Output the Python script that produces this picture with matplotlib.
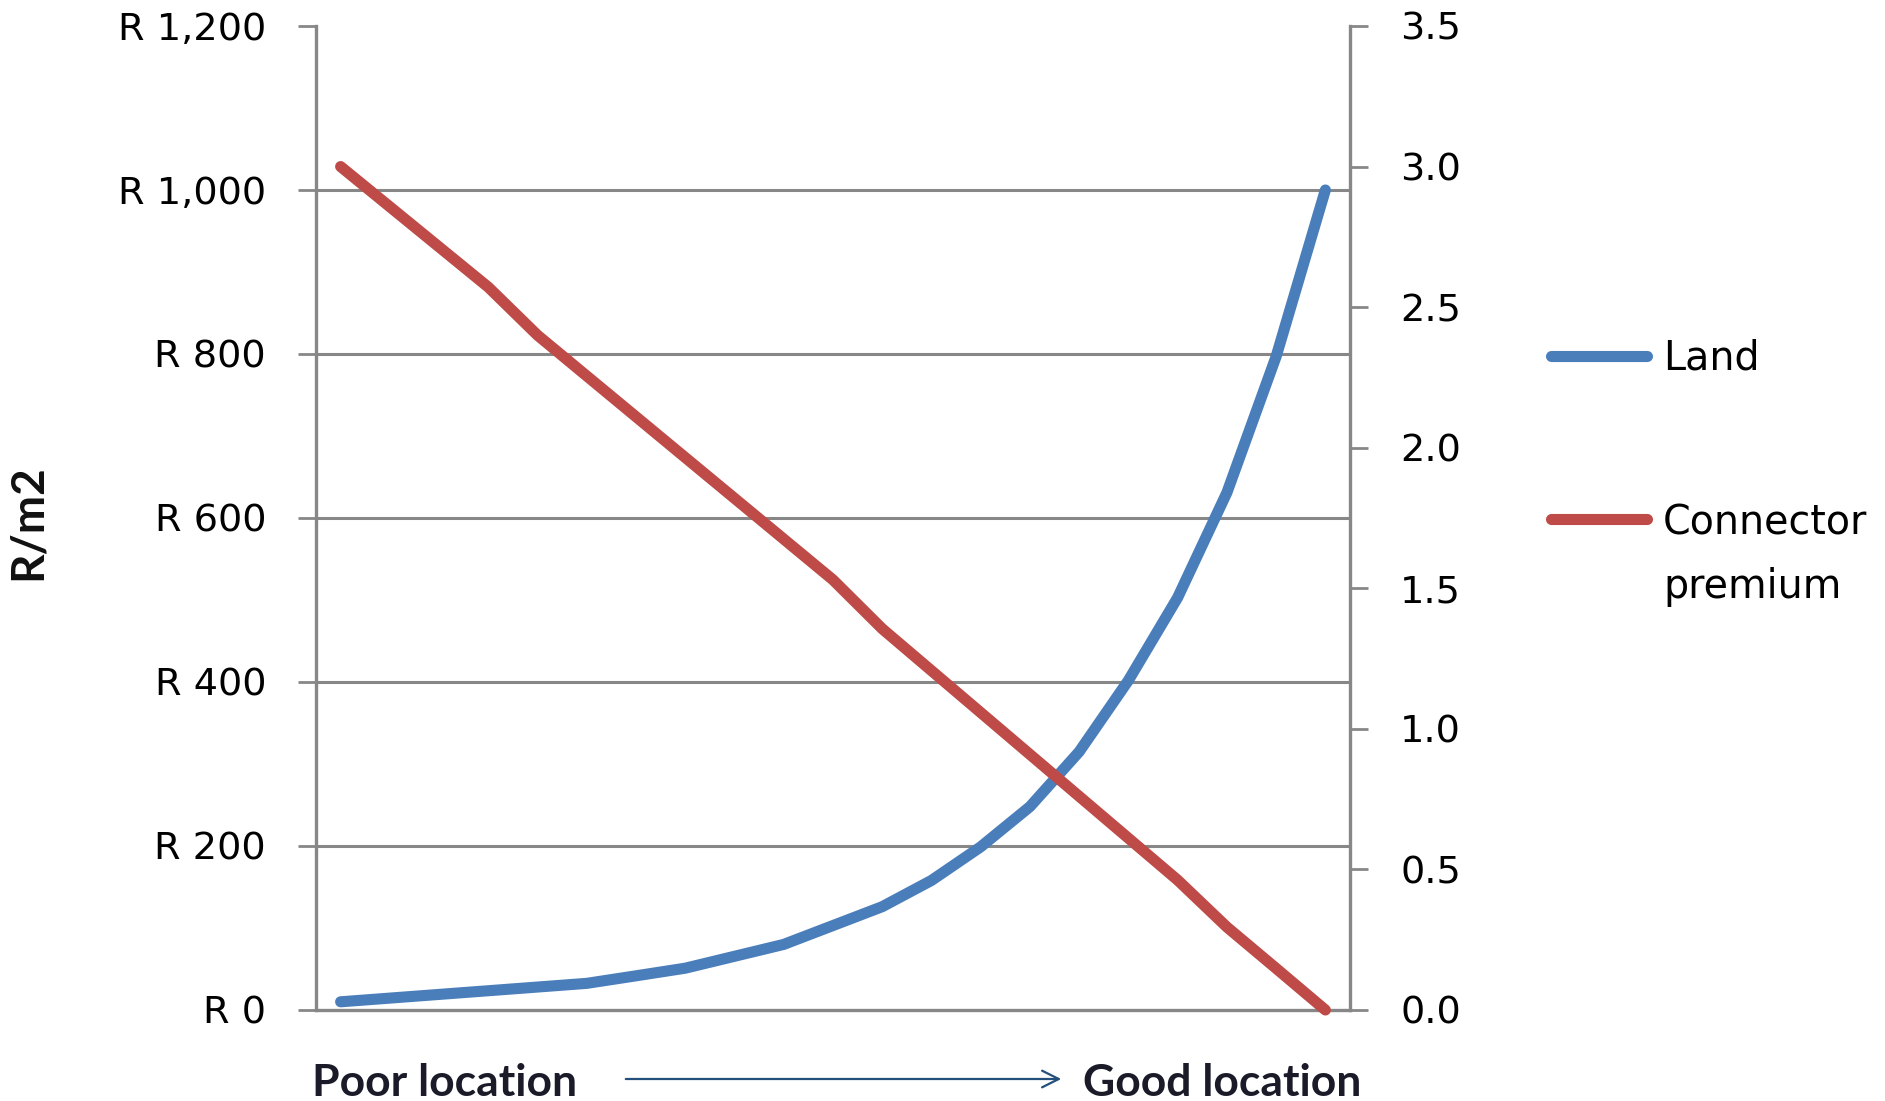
import matplotlib
matplotlib.use("Agg")
import matplotlib.pyplot as plt
from matplotlib.lines import Line2D
from matplotlib.patches import FancyArrowPatch

# Location index, from poor (0) to good (20)
locations = list(range(21))

# Land value in R per square metre (left axis)
land_price = [10, 14.5, 19, 23.5, 28, 32.5, 41.7, 51, 65.5, 80, 103, 126,
              158, 199, 248, 315, 402, 503, 631, 797, 1000]

# Connector premium (right axis)
connector_premium = [3.000, 2.857, 2.714, 2.571, 2.400, 2.255, 2.110, 1.965, 1.820, 1.675,
                     1.530, 1.356, 1.207, 1.058, 0.909, 0.760, 0.611, 0.462, 0.295, 0.148, 0.000]

left_ticks = [0, 200, 400, 600, 800, 1000, 1200]
left_tick_labels = ["R 0", "R 200", "R 400", "R 600", "R 800", "R 1,000", "R 1,200"]
right_ticks = [0.0, 0.5, 1.0, 1.5, 2.0, 2.5, 3.0, 3.5]
right_tick_labels = ["0.0", "0.5", "1.0", "1.5", "2.0", "2.5", "3.0", "3.5"]

series_names = ["Land", "Connector\npremium"]

BLUE = "#4A7EBB"
RED = "#BE4B48"
GREY = "#878787"
ARROW = "#23507A"
TICK_FONT = 27.5
LINE_W = 8
BOLD_FAMILY = ["Lato", "DejaVu Sans"]

W, H = 1885, 1101
fig = plt.figure(figsize=(W / 100, H / 100), dpi=100)
fig.patch.set_facecolor("white")

ax = fig.add_axes([316 / W, 1 - 1010 / H, (1350 - 316) / W, (1010 - 26) / H])
ax2 = ax.twinx()

# Series
ax.plot(locations, land_price, color=BLUE, lw=LINE_W, solid_capstyle="round",
        solid_joinstyle="round", clip_on=False, zorder=3)
ax2.plot(locations, connector_premium, color=RED, lw=LINE_W, solid_capstyle="round",
         solid_joinstyle="round", clip_on=False, zorder=3)

# Axes limits and ticks
ax.set_xlim(-0.5, len(locations) - 0.5)
ax.set_ylim(left_ticks[0], left_ticks[-1])
ax2.set_ylim(right_ticks[0], right_ticks[-1])

ax.set_yticks(left_ticks)
ax.set_yticklabels(left_tick_labels, fontsize=TICK_FONT, family="DejaVu Sans")
ax2.set_yticks(right_ticks)
ax2.set_yticklabels(right_tick_labels, fontsize=TICK_FONT, family="DejaVu Sans")
ax.set_xticks([])

ax.tick_params(axis="y", direction="out", length=13, width=2, color=GREY, pad=23)
ax2.tick_params(axis="y", direction="out", length=13, width=2, color=GREY, pad=23)

# Horizontal gridlines (none along the top edge)
ax.yaxis.grid(True, color=GREY, lw=2.2)
ax.set_axisbelow(True)
ax.get_ygridlines()[-1].set_visible(False)
ax.get_ygridlines()[0].set_visible(False)

for name in ["top", "right"]:
    ax.spines[name].set_visible(False)
for name in ["left", "bottom"]:
    ax.spines[name].set_color(GREY)
    ax.spines[name].set_linewidth(2.4)
for name in ["top", "left", "bottom"]:
    ax2.spines[name].set_visible(False)
ax2.spines["right"].set_color(GREY)
ax2.spines["right"].set_linewidth(2.4)

# Axis title
fig.text(28 / W, 1 - 522 / H, "R/m2", rotation=90, ha="center", va="center",
         fontsize=33, fontweight="bold", family=BOLD_FAMILY, color="#111111")

# Location direction labels
fig.text(312 / W, 1 - 1096 / H, "Poor location", ha="left", va="baseline",
         fontsize=32, fontweight="bold", family=BOLD_FAMILY, color="#1A1A28")
fig.text(1083 / W, 1 - 1096 / H, "Good location", ha="left", va="baseline",
         fontsize=32, fontweight="bold", family=BOLD_FAMILY, color="#1A1A28")
fig.add_artist(FancyArrowPatch(
    (623 / W, 1 - 1079 / H), (1064 / W, 1 - 1079 / H),
    transform=fig.transFigure, arrowstyle="->,head_length=0.6,head_width=0.3",
    mutation_scale=20, color=ARROW, lw=1.6))

# Legend
legend_rows = [(356, BLUE), (519, RED)]
for (y, color), label in zip(legend_rows, series_names):
    fig.add_artist(Line2D([1551 / W, 1647 / W], [1 - y / H, 1 - y / H],
                          transform=fig.transFigure, color=color, lw=LINE_W,
                          solid_capstyle="round"))
fig.text(1663 / W, 1 - 358 / H, series_names[0], ha="left", va="center",
         fontsize=28.5, family="DejaVu Sans", color="black")
fig.text(1663 / W, 1 - 555 / H, series_names[1], ha="left", va="center",
         fontsize=28.5, family="DejaVu Sans", color="black", linespacing=1.75)

fig.savefig("out.png", dpi=100, facecolor="white")
